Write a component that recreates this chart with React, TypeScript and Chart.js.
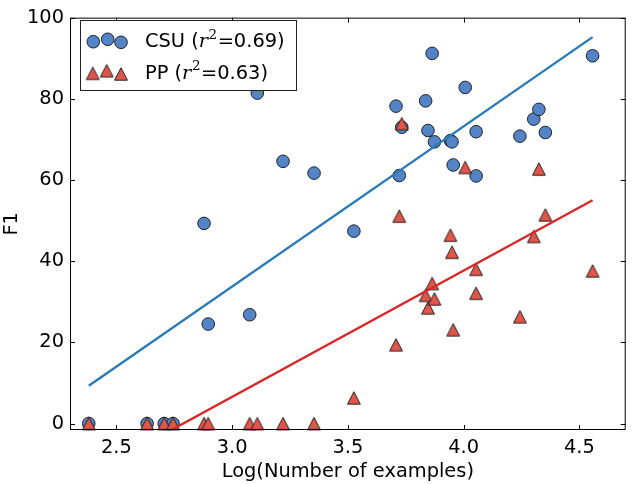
import React, { useEffect, useRef } from 'react';
import { Chart, registerables } from 'chart.js';

Chart.register(...registerables);

// ---- data ----
const logExamples = [
  2.381, 2.633, 2.707, 2.745, 2.879, 2.897, 3.076, 3.109, 3.22, 3.354,
  3.526, 3.708, 3.722, 3.733, 3.836, 3.846, 3.864, 3.874, 3.943, 3.95,
  3.955, 4.007, 4.054, 4.054, 4.243, 4.303, 4.325, 4.353, 4.557,
];
const csuF1 = [
  0, 0, 0, 0, 49.3, 24.5, 26.8, 81.4, 64.6, 61.7,
  47.4, 78.2, 61.1, 73.0, 79.5, 72.2, 91.2, 69.4, 69.7, 69.4,
  63.7, 82.8, 71.9, 61.0, 70.8, 75.0, 77.4, 71.7, 90.6,
];
const ppF1 = [
  0, 0, 0, 0, 0, 0, 0, 0, 0, 0,
  6.3, 19.4, 51.1, 73.9, 31.6, 28.5, 34.5, 30.7, 46.4, 42.2,
  23.1, 63.1, 38.0, 32.1, 26.3, 46.1, 62.7, 51.4, 37.6,
];
const fitX = [2.381, 4.557];
const csuFitF1 = [9.3, 95.2];
const ppFitF1 = [-12.7, 55.0];
const xTicks = [2.5, 3.0, 3.5, 4.0, 4.5];
const yTicks = [0, 20, 40, 60, 80, 100];
const seriesNames = ['CSU', 'PP'];
const seriesR2 = ['0.69', '0.63'];

// ---- styles ----
const FONT = "'DejaVu Sans'";
const FS = 19.4;
const CSU_FILL = '#5284c7';
const PP_FILL = '#e1564a';
const EDGE = '#222222';
const CSU_LINE = '#2a7ab8';
const PP_LINE = '#d7282a';

function makeTriangle(fill: string, stroke: string): HTMLCanvasElement {
  const c = document.createElement('canvas');
  c.width = 16;
  c.height = 16;
  const g = c.getContext('2d')!;
  g.beginPath();
  g.moveTo(8, 1.8);
  g.lineTo(1.6, 14.2);
  g.lineTo(14.4, 14.2);
  g.closePath();
  g.fillStyle = fill;
  g.fill();
  g.lineWidth = 1;
  g.strokeStyle = stroke;
  g.stroke();
  return c;
}

function drawCircle(ctx: CanvasRenderingContext2D, x: number, y: number) {
  ctx.beginPath();
  ctx.arc(x, y, 6.3, 0, Math.PI * 2);
  ctx.fillStyle = CSU_FILL;
  ctx.fill();
  ctx.lineWidth = 1;
  ctx.strokeStyle = EDGE;
  ctx.stroke();
}

function drawLabel(ctx: CanvasRenderingContext2D, x: number, baseline: number, name: string, r2: string) {
  ctx.fillStyle = '#000';
  ctx.textAlign = 'left';
  ctx.textBaseline = 'alphabetic';
  ctx.font = `${FS}px ${FONT}`;
  const a = name + ' (';
  ctx.fillText(a, x, baseline);
  x += ctx.measureText(a).width;
  ctx.font = `italic ${FS}px 'DejaVu Serif'`;
  ctx.fillText('r', x, baseline);
  x += ctx.measureText('r').width + 0.5;
  ctx.font = "13.5px 'DejaVu Serif'";
  ctx.fillText('2', x, baseline - 8.5);
  x += ctx.measureText('2').width + 0.5;
  ctx.font = `${FS}px ${FONT}`;
  ctx.fillText('=' + r2 + ')', x, baseline);
}

function makeFramePlugin(tri: HTMLCanvasElement) {
  return {
    id: 'mplFrame',
    afterDraw(chart: any) {
      const ctx: CanvasRenderingContext2D = chart.ctx;
      const ca = chart.chartArea;
      const xs = chart.scales.x;
      const ys = chart.scales.y;
      ctx.save();
      ctx.strokeStyle = '#000';
      ctx.lineWidth = 1;
      ctx.strokeRect(ca.left + 0.5, ca.top + 0.5, ca.right - ca.left - 1, ca.bottom - ca.top - 1);
      const tl = 5;
      ctx.beginPath();
      xTicks.forEach((v) => {
        const px = Math.round(xs.getPixelForValue(v)) + 0.5;
        ctx.moveTo(px, ca.bottom);
        ctx.lineTo(px, ca.bottom - tl);
        ctx.moveTo(px, ca.top);
        ctx.lineTo(px, ca.top + tl);
      });
      yTicks.forEach((v) => {
        const py = Math.round(ys.getPixelForValue(v)) + 0.5;
        ctx.moveTo(ca.left, py);
        ctx.lineTo(ca.left + tl, py);
        ctx.moveTo(ca.right, py);
        ctx.lineTo(ca.right - tl, py);
      });
      ctx.stroke();

      // legend
      ctx.fillStyle = '#fff';
      ctx.fillRect(80.5, 20.5, 216, 70);
      ctx.strokeStyle = '#222';
      ctx.strokeRect(80.5, 20.5, 216, 70);
      drawCircle(ctx, 93.3, 41.7);
      drawCircle(ctx, 107.7, 39.3);
      drawCircle(ctx, 121, 42.3);
      ctx.drawImage(tri, 92.7 - 8, 73.3 - 8);
      ctx.drawImage(tri, 106.7 - 8, 70.7 - 8);
      ctx.drawImage(tri, 121 - 8, 74 - 8);
      drawLabel(ctx, 145, 47, seriesNames[0], seriesR2[0]);
      drawLabel(ctx, 145, 78.5, seriesNames[1], seriesR2[1]);
      ctx.restore();
    },
  };
}

export default function App() {
  const ref = useRef<HTMLCanvasElement>(null);
  useEffect(() => {
    const canvas = ref.current!;
    const tri = makeTriangle(PP_FILL, EDGE);
    const chart = new Chart(canvas, {
      type: 'scatter',
      data: {
        datasets: [
          {
            label: 'CSU fit',
            data: fitX.map((x, i) => ({ x, y: csuFitF1[i] })),
            showLine: true,
            borderColor: CSU_LINE,
            borderWidth: 2.4,
            pointRadius: 0,
            order: 0,
            clip: 0,
          } as any,
          {
            label: 'PP fit',
            data: fitX.map((x, i) => ({ x, y: ppFitF1[i] })),
            showLine: true,
            borderColor: PP_LINE,
            borderWidth: 2.4,
            pointRadius: 0,
            order: 0,
            clip: 0,
          } as any,
          {
            label: seriesNames[1],
            data: logExamples.map((x, i) => ({ x, y: ppF1[i] })),
            pointStyle: tri,
            pointRadius: 6,
            order: 1,
            clip: false,
          } as any,
          {
            label: seriesNames[0],
            data: logExamples.map((x, i) => ({ x, y: csuF1[i] })),
            pointStyle: 'circle',
            pointRadius: 6.3,
            backgroundColor: CSU_FILL,
            borderColor: EDGE,
            borderWidth: 1,
            order: 2,
            clip: false,
          } as any,
        ],
      },
      options: {
        animation: false,
        responsive: false,
        devicePixelRatio: 1,
        events: [],
        layout: { padding: { top: 10, right: 3, left: 0, bottom: 0 } },
        plugins: { legend: { display: false }, tooltip: { enabled: false } },
        scales: {
          x: {
            type: 'linear',
            min: 2.3,
            max: 4.7,
            grid: { display: false, drawTicks: false },
            border: { display: false },
            afterBuildTicks: (s: any) => {
              s.ticks = xTicks.map((v) => ({ value: v }));
            },
            afterFit: (s: any) => {
              s.height = 54;
            },
            ticks: {
              callback: (v: any) => Number(v).toFixed(1),
              color: '#000',
              font: { family: FONT, size: FS },
              padding: 6,
              maxRotation: 0,
              autoSkip: false,
            },
            title: {
              display: true,
              text: 'Log(Number of examples)',
              color: '#000',
              font: { family: FONT, size: FS },
              padding: 0,
            },
          },
          y: {
            type: 'linear',
            min: -1.6,
            max: 100,
            grid: { display: false, drawTicks: false },
            border: { display: false },
            afterBuildTicks: (s: any) => {
              s.ticks = yTicks.map((v) => ({ value: v }));
            },
            afterFit: (s: any) => {
              s.width = 70;
            },
            ticks: {
              callback: (v: any) => String(v),
              color: '#000',
              font: { family: FONT, size: FS },
              padding: 6,
              autoSkip: false,
            },
            title: {
              display: true,
              text: 'F1',
              color: '#000',
              font: { family: FONT, size: FS },
              padding: 0,
            },
          },
        },
      } as any,
      plugins: [makeFramePlugin(tri)],
    });
    return () => chart.destroy();
  }, []);
  return (
    <div style={{ position: 'fixed', left: 0, top: 0, width: 633, height: 484, background: '#fff' }}>
      <canvas ref={ref} width={633} height={484} style={{ display: 'block' }} />
    </div>
  );
}
